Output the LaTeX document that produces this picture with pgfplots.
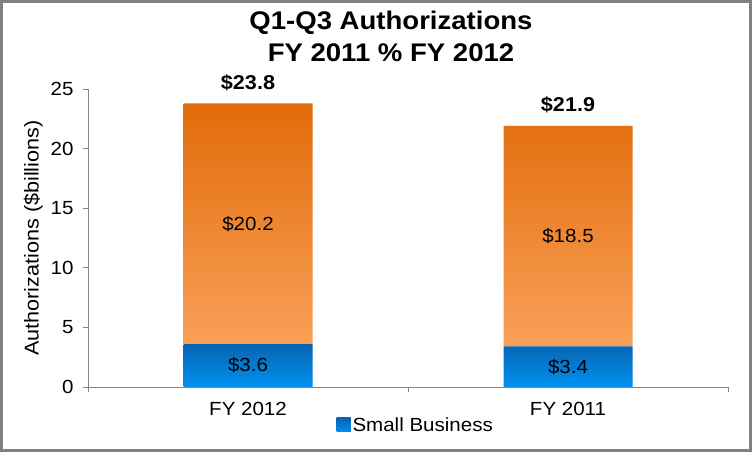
\documentclass[border=0pt]{standalone}
\usepackage{fontspec}
\setmainfont{Liberation Sans}[FakeStretch=1.08]
\usepackage{pgfplots}
\pgfplotsset{compat=1.18}
\definecolor{orTop}{RGB}{226,107,10}
\definecolor{orBot}{RGB}{249,160,88}
\definecolor{blTop}{RGB}{8,100,178}
\definecolor{blBot}{RGB}{0,146,240}
\definecolor{axgray}{RGB}{134,134,134}
\definecolor{framegray}{RGB}{128,128,128}
\newcommand{\tf}{\fontsize{19bp}{22bp}\selectfont}
\begin{document}
\begin{tikzpicture}
\useasboundingbox (0,0) rectangle (752bp,452bp);
\fill[white] (0,0) rectangle (752bp,452bp);
\draw[framegray, line width=3bp] (1.5bp,1.5bp) rectangle (750.5bp,450.5bp);
\node[font=\bfseries\fontsize{25.5bp}{30bp}\selectfont, anchor=base] at (391bp,422.5bp) {Q1-Q3 Authorizations};
\node[font=\bfseries\fontsize{25.5bp}{30bp}\selectfont, anchor=base] at (391bp,390.3bp) {FY 2011 \% FY 2012};
\begin{axis}[
  at={(88bp,65bp)}, anchor=south west, scale only axis,
  width=640bp, height=298bp,
  xmin=-0.5, xmax=1.5, ymin=0, ymax=25,
  ybar stacked, bar width=129bp,
  axis x line*=bottom, axis y line*=left,
  axis line style={axgray, line width=0.8bp},
  xtick={-0.5,0.5,1.5}, xticklabels={},
  extra x ticks={0,1}, extra x tick labels={FY 2012,FY 2011},
  extra x tick style={major tick length=0pt, xticklabel style={yshift=-12bp}},
  ytick={0,5,...,25},
  yticklabel style={xshift=-6bp},
  tick align=outside, major tick length=5bp,
  tick style={axgray, line width=0.8bp},
  tick label style={font=\tf},
  /pgf/number format/assume math mode=true,
  ylabel={Authorizations (\$billions)},
  ylabel style={font=\fontsize{20bp}{24bp}\selectfont},
  ylabel shift=1bp,
  legend style={at={(axis description cs:0.512,-0.1275)}, anchor=center,
    draw=none, fill=none, font=\tf, inner sep=0pt,
    /tikz/every even column/.append style={column sep=2bp}},
  legend image code/.code={\fill[blTop!55!blBot] (0bp,-7bp) rectangle (14bp,7bp);},
]
\addplot[draw=none, top color=blTop, bottom color=blBot] coordinates {(0,3.6) (1,3.4)};
\addlegendentry{Small Business}
\addplot[draw=none, top color=orTop, bottom color=orBot, forget plot] coordinates {(0,20.2) (1,18.5)};
\end{axis}
\begin{axis}[
  at={(88bp,65bp)}, anchor=south west, scale only axis,
  width=640bp, height=298bp,
  xmin=-0.5, xmax=1.5, ymin=0, ymax=25, hide axis, clip=false,
]
\addplot[draw=none, mark=none, nodes near coords, point meta=explicit symbolic,
  every node near coord/.append style={anchor=center, font=\tf, text=black}]
  coordinates {(0,1.8)[\$3.6] (1,1.7)[\$3.4] (0,13.7)[\$20.2] (1,12.65)[\$18.5]};
\addplot[draw=none, mark=none, nodes near coords, point meta=explicit symbolic,
  every node near coord/.append style={anchor=base, inner sep=0pt, yshift=14bp, font=\bfseries\fontsize{20bp}{24bp}\selectfont, text=black}]
  coordinates {(0,23.8)[\$23.8] (1,21.9)[\$21.9]};
\end{axis}
\end{tikzpicture}
\end{document}
